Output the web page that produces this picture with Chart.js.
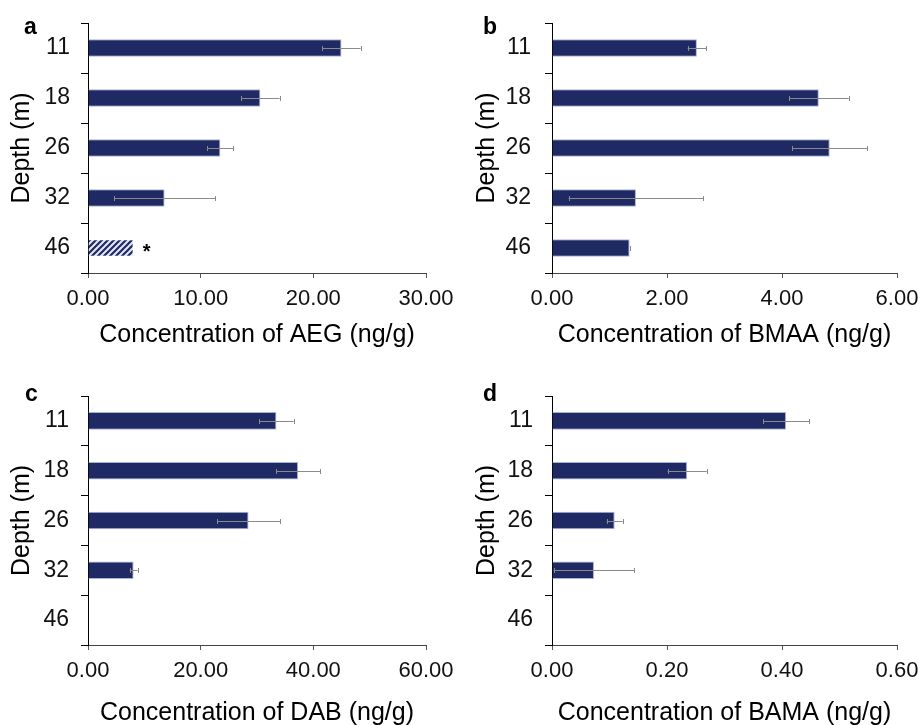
<!DOCTYPE html>
<html><head><meta charset="utf-8">
<script src="https://cdn.jsdelivr.net/npm/chart.js@4.4.1/dist/chart.umd.min.js"></script>
<style>
html,body{margin:0;padding:0;background:#fff;width:918px;height:725px;overflow:hidden;}
.panel{position:absolute;}
canvas{display:block;}
</style></head><body>
<div class="panel" style="left:0;top:0;width:459px;height:362px"><canvas id="ca" width="459" height="362"></canvas></div>
<div class="panel" style="left:459px;top:0;width:459px;height:362px"><canvas id="cb" width="459" height="362"></canvas></div>
<div class="panel" style="left:0;top:362px;width:459px;height:370px"><canvas id="cc" width="459" height="370"></canvas></div>
<div class="panel" style="left:459px;top:362px;width:459px;height:370px"><canvas id="cd" width="459" height="370"></canvas></div>
<script>
// ---- data ----
const depths = ["11", "18", "26", "32", "46"];
const aegValues = [22.5, 15.3, 11.75, 6.8, 4.05];
const aegErrors = [1.7, 1.7, 1.15, 4.5, null];
const bmaaValues = [2.52, 4.64, 4.83, 1.46, 1.35];
const bmaaErrors = [0.16, 0.52, 0.65, 1.17, 0];
const dabValues = [33.45, 37.3, 28.5, 8.1, null];
const dabErrors = [3.05, 3.95, 5.6, 0.7, null];
const bamaValues = [0.407, 0.235, 0.109, 0.073, null];
const bamaErrors = [0.04, 0.034, 0.014, 0.07, null];
const aegTicks = [0, 10, 20, 30];
const bmaaTicks = [0, 2, 4, 6];
const dabTicks = [0, 20, 40, 60];
const bamaTicks = [0, 0.2, 0.4, 0.6];

// ---- styling ----
const NAVY = '#1f2963';
const FONT = '"Liberation Sans", Arial, Helvetica, sans-serif';
Chart.defaults.font.family = FONT;
Chart.defaults.color = '#111';

function makeHatch() {
  const c = document.createElement('canvas');
  c.width = 6; c.height = 6;
  const g = c.getContext('2d');
  g.fillStyle = '#e3e8f2'; g.fillRect(0, 0, 6, 6);
  g.strokeStyle = NAVY; g.lineWidth = 2.2;
  g.beginPath();
  g.moveTo(-1, 7); g.lineTo(7, -1);
  g.moveTo(-1, 1); g.lineTo(1, -1);
  g.moveTo(5, 7); g.lineTo(7, 5);
  g.stroke();
  return g.createPattern(c, 'repeat');
}
const hatch = makeHatch();

const deco = {
  id: 'deco',
  afterDatasetsDraw(chart, args, opts) {
    const ctx = chart.ctx;
    const xs = chart.scales.x, ys = chart.scales.y;
    const vals = chart.data.datasets[0].data;
    ctx.save();
    ctx.strokeStyle = '#8a8a8a';
    ctx.lineWidth = 1;
    (opts.errors || []).forEach((e, i) => {
      if (e === null || vals[i] === null) return;
      const x1 = xs.getPixelForValue(vals[i] - e);
      const x2 = xs.getPixelForValue(vals[i] + e);
      const y = Math.round(ys.getPixelForValue(i)) + 0.5;
      ctx.beginPath();
      ctx.moveTo(x1, y); ctx.lineTo(x2, y);
      ctx.moveTo(Math.round(x1) + 0.5, y - 2.5); ctx.lineTo(Math.round(x1) + 0.5, y + 2.5);
      ctx.moveTo(Math.round(x2) + 0.5, y - 2.5); ctx.lineTo(Math.round(x2) + 0.5, y + 2.5);
      ctx.stroke();
    });
    if (opts.star !== undefined && opts.star !== null && opts.star >= 0) {
      const i = opts.star;
      const x = xs.getPixelForValue(vals[i]) + 9;
      const y = ys.getPixelForValue(i) + 10;
      ctx.fillStyle = '#000';
      ctx.font = 'bold 20px ' + FONT;
      ctx.textAlign = 'left';
      ctx.textBaseline = 'alphabetic';
      ctx.fillText('*', x, y);
    }
    if (opts.letter) {
      ctx.fillStyle = '#000';
      ctx.font = 'bold 23px ' + FONT;
      ctx.textAlign = 'left';
      ctx.textBaseline = 'alphabetic';
      ctx.fillText(opts.letter, opts.letterX, opts.letterY);
    }
    ctx.restore();
  }
};

function makeChart(id, values, errors, ticks, xTitle, letter, geo, hatchIndex) {
  const bg = values.map((v, i) => i === hatchIndex ? hatch : NAVY);
  const borders = values.map((v, i) => i === hatchIndex ? 'rgba(0,0,0,0)' : '#aab2d4');
  return new Chart(document.getElementById(id), {
    type: 'bar',
    data: {
      labels: depths,
      datasets: [{
        data: values,
        backgroundColor: bg,
        borderColor: borders,
        borderWidth: 1,
        borderSkipped: 'start',
        categoryPercentage: 1,
        barPercentage: 0.354
      }]
    },
    options: {
      indexAxis: 'y',
      responsive: false,
      animation: false,
      events: [],
      layout: { padding: { left: 0, right: geo.right, top: geo.top, bottom: 0 } },
      plugins: {
        legend: { display: false },
        tooltip: { enabled: false },
        deco: { errors: errors, star: hatchIndex, letter: letter, letterX: geo.lx, letterY: geo.ly }
      },
      scales: {
        x: {
          type: 'linear',
          min: ticks[0],
          max: ticks[ticks.length - 1],
          afterBuildTicks: s => { s.ticks = ticks.map(v => ({ value: v })); },
          ticks: {
            callback: v => Number(v).toFixed(2),
            font: { size: 22 },
            color: '#111',
            padding: 8,
            maxRotation: 0,
            autoSkip: false
          },
          grid: { display: true, drawOnChartArea: false, drawTicks: true, tickLength: 5, color: '#555', lineWidth: 1 },
          border: { display: true, color: '#444', width: 1 },
          title: { display: true, text: xTitle, font: { size: 25 }, color: '#000', padding: { top: 0, bottom: geo.xtp } },
          afterFit: s => { s.height = geo.xh; s.paddingLeft = 0; s.paddingRight = 0; }
        },
        y: {
          type: 'category',
          offset: true,
          ticks: { font: { size: 23 }, color: '#111', padding: geo.ytick },
          grid: { display: true, offset: true, drawOnChartArea: false, drawTicks: true, tickLength: 7, color: '#000', lineWidth: 1 },
          border: { display: true, color: '#000', width: 1 },
          title: { display: true, text: 'Depth (m)', font: { size: 25 }, color: '#000', padding: { top: geo.ytp, bottom: 0 } },
          afterFit: s => { s.width = geo.yw; s.paddingTop = 0; s.paddingBottom = 0; }
        }
      }
    },
    plugins: [deco]
  });
}

makeChart('ca', aegValues, aegErrors, aegTicks, 'Concentration of AEG (ng/g)', 'a',
  { top: 23, right: 33, yw: 88, xh: 89, xtp: 12, ytp: 6.7, ytick: 11, lx: 24, ly: 34 }, 4);
makeChart('cb', bmaaValues, bmaaErrors, bmaaTicks, 'Concentration of BMAA (ng/g)', 'b',
  { top: 23, right: 21, yw: 93, xh: 89, xtp: 12, ytp: 12.7, ytick: 14, lx: 24, ly: 34 }, -1);
makeChart('cc', dabValues, dabErrors, dabTicks, 'Concentration of DAB (ng/g)', 'c',
  { top: 34, right: 33, yw: 88, xh: 87, xtp: 3.7, ytp: 6.7, ytick: 12, lx: 25, ly: 38.5 }, -1);
makeChart('cd', bamaValues, bamaErrors, bamaTicks, 'Concentration of BAMA (ng/g)', 'd',
  { top: 34, right: 21, yw: 93, xh: 87, xtp: 3.7, ytp: 12.7, ytick: 12, lx: 24, ly: 38.5 }, -1);
</script>
</body></html>
